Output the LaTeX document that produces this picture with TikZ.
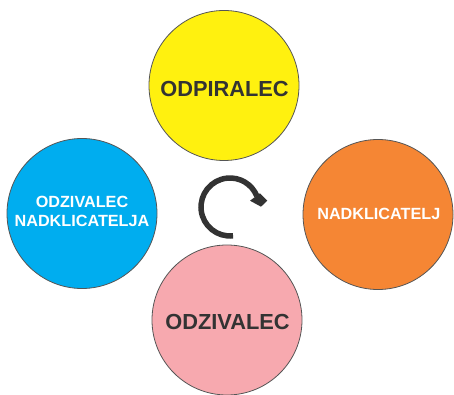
\documentclass[tikz,border=0pt]{standalone}
\usepackage{fontspec}
\setmainfont{Liberation Sans}
\definecolor{cyellow}{HTML}{FFF10F}
\definecolor{cblue}{HTML}{00ADEF}
\definecolor{corange}{HTML}{F58634}
\definecolor{cpink}{HTML}{F7A9AF}
\definecolor{cdark}{HTML}{333333}
\definecolor{cedge}{HTML}{555555}
\begin{document}
\begin{tikzpicture}[x=1pt,y=1pt,
  bubble/.style={circle,draw=cedge,line width=0.8pt,minimum size=150pt,inner sep=0pt},
  bigtxt/.style={font=\bfseries\fontsize{21.8}{24}\selectfont,text=cdark,anchor=base,inner sep=0pt},
  smalltxt/.style={font=\bfseries\fontsize{16.2}{18.7}\selectfont,text=white,anchor=base,inner sep=0pt,align=center}]
\useasboundingbox (0,0) rectangle (454,395);
\node[bubble,fill=cyellow] (top) at (224,309.5) {};
\node[bubble,fill=cblue] (left) at (82,181.5) {};
\node[bubble,fill=corange] (right) at (378,180.5) {};
\node[bubble,fill=cpink] (bottom) at (227,75) {};
\node[bigtxt] (ttop) at (224.5,298.3) {ODPIRALEC};
\node[bigtxt] (tbottom) at (227.5,65.7) {ODZIVALEC};
\node[smalltxt] (tright) at (378.8,175.7) {NADKLICATELJ};
\node[smalltxt] (tleft1) at (82,187) {ODZIVALEC};
\node[smalltxt] (tleft2) at (82,168.3) {NADKLICATELJA};
\coordinate (cyc) at (230,188);
\draw[cdark,line width=5.5pt] (cyc) ++(-84:29) arc[start angle=-84,end angle=-338,radius=29];
\fill[cdark] (250,194.3) -- (260,201.7) -- (267.3,194.3) -- (261,188.3) -- cycle;
\end{tikzpicture}
\end{document}
